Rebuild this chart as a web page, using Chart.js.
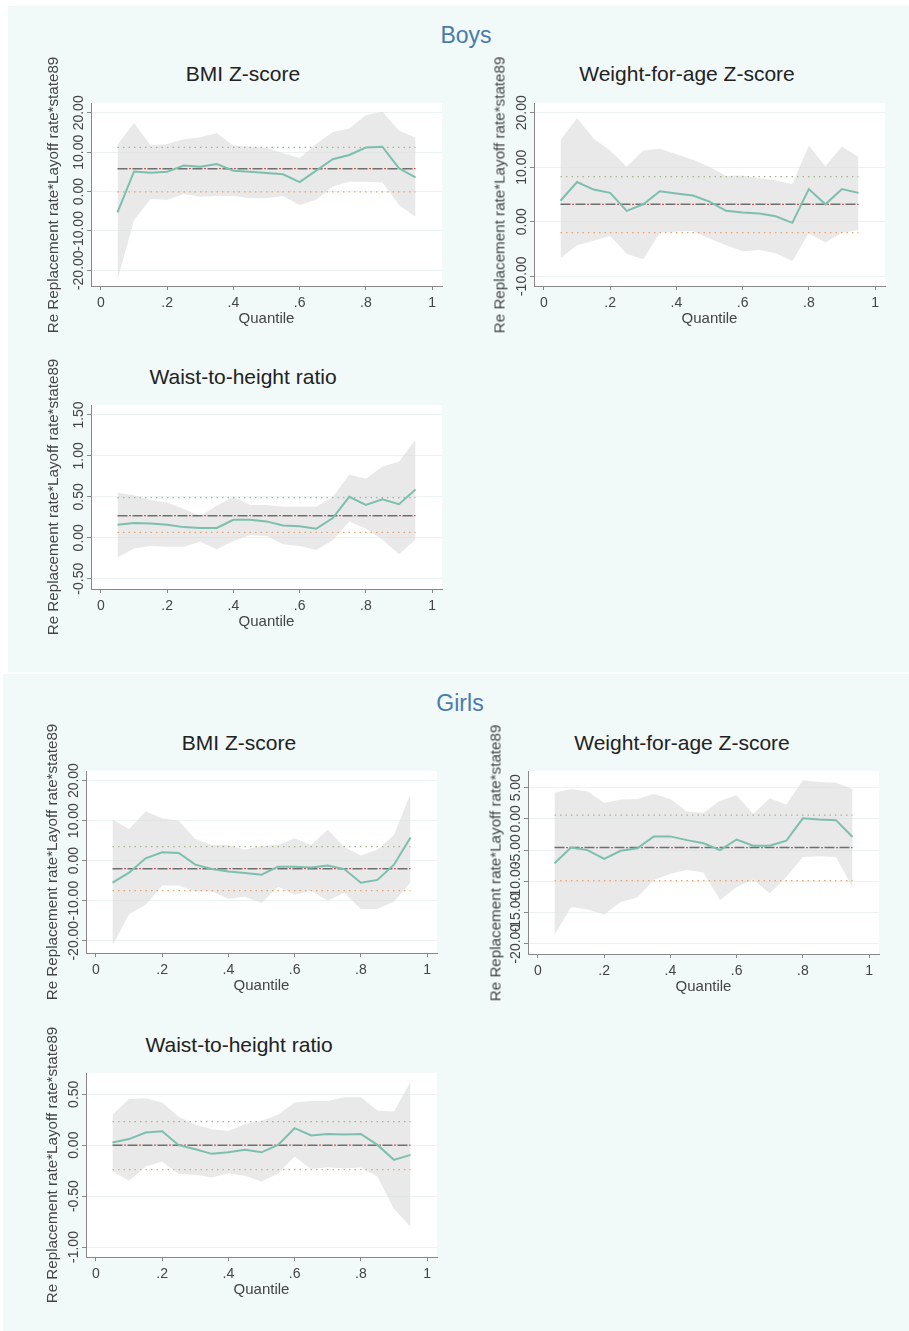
<!DOCTYPE html>
<html><head><meta charset="utf-8">
<script src="https://cdn.jsdelivr.net/npm/chart.js@4.4.1/dist/chart.umd.min.js"></script>
<style>
body{margin:0;background:#fff;width:909px;height:1331px;position:relative;overflow:hidden;font-family:'Liberation Sans',Arial,sans-serif;}
.panel{position:absolute;background:#f1f9f9;}
.ptitle{position:absolute;font-size:23px;color:#4a7bab;transform:translate(-50%,-50%);white-space:nowrap;}
.stitle{position:absolute;font-size:21px;color:#222;transform:translate(-50%,-50%);white-space:nowrap;}
.ytitle{position:absolute;font-size:15.2px;color:#444;transform:translate(-50%,-50%) rotate(-90deg);white-space:nowrap;z-index:2;}
canvas{position:absolute;z-index:1;}
</style></head><body>
<div class="panel" style="left:8px;top:6px;width:901px;height:666px"></div>
<div class="panel" style="left:3px;top:674px;width:906px;height:657px"></div>
<div class="ptitle" style="left:466px;top:35px">Boys</div>
<div class="ptitle" style="left:460px;top:703px">Girls</div>
<script>
// ---- data ----
const quantiles = [0.05,0.10,0.15,0.20,0.25,0.30,0.35,0.40,0.45,0.50,0.55,0.60,0.65,0.70,0.75,0.80,0.85,0.90,0.95];
const xTicks = [0,0.2,0.4,0.6,0.8,1];
const xTickLabels = ['0','.2','.4','.6','.8','1'];
const yAxisTitle = 'Re Replacement rate*Layoff rate*state89';
const xAxisTitle = 'Quantile';

// Boys BMI Z-score
const boysBmiCoef = [-5.3,5.1,4.8,5.0,6.6,6.3,7.0,5.3,5.0,4.7,4.4,2.4,5.3,8.2,9.3,11.2,11.4,5.9,3.6];
const boysBmiHi   = [11.9,17.4,11.7,12.1,13.3,13.8,14.8,11.7,11.4,11.1,9.7,8.5,12.1,15.1,16.0,19.4,20.3,15.5,13.7];
const boysBmiLo   = [-22.5,-7.2,-1.9,-2.1,-0.6,-1.3,-1.1,-1.1,-1.7,-1.7,-1.1,-3.4,-2.1,1.3,2.5,2.5,2.3,-3.4,-6.4];
const boysBmiOls  = [5.8,-0.1,11.2];
const boysBmiTicks = [-20,-10,0,10,20];

// Boys Weight-for-age Z-score
const boysWfaCoef = [3.85,7.3,5.9,5.3,2.0,3.2,5.6,5.2,4.8,3.7,2.0,1.7,1.5,1.0,-0.2,6.0,3.2,6.0,5.3];
const boysWfaHi   = [15.0,19.0,15.3,13.1,10.1,13.1,13.4,12.4,11.4,10.1,8.4,8.5,8.0,7.6,6.9,14.0,10.2,13.8,11.9];
const boysWfaLo   = [-6.7,-4.3,-3.5,-2.6,-5.9,-6.9,-2.0,-1.8,-1.7,-3.1,-4.3,-5.4,-5.2,-5.8,-7.2,-2.1,-3.8,-2.0,-1.5];
const boysWfaOls  = [3.2,-2.0,8.3];
const boysWfaTicks = [-10,0,10,20];

// Boys Waist-to-height ratio
const boysWhtrCoef = [0.16,0.18,0.175,0.16,0.13,0.12,0.12,0.22,0.22,0.20,0.15,0.14,0.11,0.24,0.50,0.40,0.47,0.41,0.59];
const boysWhtrHi   = [0.55,0.52,0.46,0.43,0.35,0.27,0.39,0.50,0.40,0.40,0.38,0.38,0.38,0.50,0.77,0.72,0.87,0.93,1.20];
const boysWhtrLo   = [-0.24,-0.13,-0.10,-0.11,-0.11,-0.05,-0.14,-0.04,0.03,0.02,-0.08,-0.10,-0.15,-0.03,0.20,0.11,-0.02,-0.20,-0.02];
const boysWhtrOls  = [0.27,0.065,0.49];
const boysWhtrTicks = [-0.5,0,0.5,1,1.5];

// Girls BMI Z-score
const girlsBmiCoef = [-5.5,-3.0,0.6,2.1,1.9,-1.0,-2.1,-2.7,-3.1,-3.5,-1.5,-1.5,-1.7,-1.2,-2.1,-5.5,-4.8,-1.0,5.8];
const girlsBmiHi   = [10.3,7.9,12.3,10.6,10.0,5.4,3.9,3.9,2.7,3.7,3.9,5.6,3.9,7.7,3.4,1.3,2.7,6.4,16.7];
const girlsBmiLo   = [-21.2,-13.4,-11.0,-6.2,-6.2,-7.7,-7.7,-9.5,-9.0,-10.6,-6.5,-8.5,-7.5,-10.0,-8.0,-12.1,-12.1,-10.2,-5.4];
const girlsBmiOls  = [-2.0,-7.5,3.5];
const girlsBmiTicks = [-20,-10,0,10,20];

// Girls Weight-for-age Z-score
const girlsWfaCoef = [-7.1,-4.6,-5.0,-6.4,-5.1,-4.7,-2.8,-2.8,-3.4,-3.9,-5.0,-3.3,-4.3,-4.3,-3.5,0.1,-0.1,-0.2,-2.9];
const girlsWfaHi   = [4.2,4.8,4.4,2.6,3.1,3.2,4.0,3.2,1.2,1.0,2.9,3.8,0.8,3.3,2.3,6.2,5.9,5.8,4.8];
const girlsWfaLo   = [-18.6,-14.1,-14.5,-15.3,-13.3,-12.6,-9.8,-8.8,-8.2,-8.6,-13.0,-10.9,-9.7,-11.9,-9.3,-6.1,-6.0,-6.1,-10.9];
const girlsWfaOls  = [-4.6,-9.9,0.6];
const girlsWfaTicks = [-20,-15,-10,-5,0,5];

// Girls Waist-to-height ratio
const girlsWhtrCoef = [0.026,0.06,0.125,0.137,0.0,-0.04,-0.085,-0.07,-0.045,-0.07,0.003,0.167,0.095,0.11,0.105,0.11,0.003,-0.144,-0.095];
const girlsWhtrHi   = [0.30,0.454,0.46,0.42,0.28,0.20,0.157,0.14,0.206,0.24,0.30,0.42,0.435,0.435,0.47,0.47,0.34,0.33,0.62];
const girlsWhtrLo   = [-0.258,-0.35,-0.21,-0.16,-0.284,-0.29,-0.317,-0.275,-0.30,-0.356,-0.28,-0.11,-0.235,-0.216,-0.23,-0.22,-0.307,-0.627,-0.80];
const girlsWhtrOls  = [0.0,-0.239,0.232];
const girlsWhtrTicks = [-1,-0.5,0,0.5];

// ---- layout ----
const FONT = "'Liberation Sans', Arial, sans-serif";
Chart.defaults.font.family = FONT;
const panels = [
  {title:'BMI Z-score', coef:boysBmiCoef, hi:boysBmiHi, lo:boysBmiLo, ols:boysBmiOls, ticks:boysBmiTicks, ymin:-24, ymax:22.5, area:[91,103,442,286], tx:243, ty:74, yx:52},
  {title:'Weight-for-age Z-score', coef:boysWfaCoef, hi:boysWfaHi, lo:boysWfaLo, ols:boysWfaOls, ticks:boysWfaTicks, ymin:-11.8, ymax:21.8, area:[534,103,885,286], tx:687, ty:74, yx:499},
  {title:'Waist-to-height ratio', coef:boysWhtrCoef, hi:boysWhtrHi, lo:boysWhtrLo, ols:boysWhtrOls, ticks:boysWhtrTicks, ymin:-0.626, ymax:1.622, area:[91,405,442,589], tx:243, ty:377, yx:52},
  {title:'BMI Z-score', coef:girlsBmiCoef, hi:girlsBmiHi, lo:girlsBmiLo, ols:girlsBmiOls, ticks:girlsBmiTicks, ymin:-23.07, ymax:22.4, area:[86,771,437,953], tx:239, ty:743, yx:51},
  {title:'Weight-for-age Z-score', coef:girlsWfaCoef, hi:girlsWfaHi, lo:girlsWfaLo, ols:girlsWfaOls, ticks:girlsWfaTicks, ymin:-21.65, ymax:7.68, area:[528,771,879,954], tx:682, ty:743, yx:495},
  {title:'Waist-to-height ratio', coef:girlsWhtrCoef, hi:girlsWhtrHi, lo:girlsWhtrLo, ols:girlsWhtrOls, ticks:girlsWhtrTicks, ymin:-1.098, ymax:0.709, area:[86,1073,437,1257], tx:239, ty:1045, yx:51}
];

const plotBg = {id:'plotBg', beforeDraw(chart){const {ctx, chartArea:a}=chart; ctx.save(); ctx.fillStyle='#ffffff'; ctx.fillRect(a.left,a.top,a.right-a.left,a.bottom-a.top); ctx.restore();}};
const mctx = document.createElement('canvas').getContext('2d');
const YFS = 14;
mctx.font = 'normal ' + YFS + 'px ' + FONT;

const pts = arr => quantiles.map((q,i)=>({x:q, y:arr[i]}));
const span = v => [{x:quantiles[0], y:v},{x:quantiles[quantiles.length-1], y:v}];

panels.forEach(p => {
  const [L,T,R,B] = p.area;
  const YW = 70, XH = 48, PT = 8, PR = 8;
  const w = R-L+YW+PR, h = B-T+PT+XH;
  const cv = document.createElement('canvas');
  cv.width = w; cv.height = h;
  cv.style.left = (L-YW)+'px'; cv.style.top = (T-PT)+'px';
  cv.style.width = w+'px'; cv.style.height = h+'px';
  document.body.appendChild(cv);

  const t = document.createElement('div'); t.className='stitle'; t.textContent=p.title;
  t.style.left=p.tx+'px'; t.style.top=p.ty+'px'; document.body.appendChild(t);
  const yt = document.createElement('div'); yt.className='ytitle'; yt.textContent=yAxisTitle;
  yt.style.left=p.yx+'px'; yt.style.top=((T+B)/2)+'px'; document.body.appendChild(yt);

  const widest = Math.max(...p.ticks.map(v=>mctx.measureText(v.toFixed(2)).width));
  const TL = 4;
  const pad = 12 - TL - widest/2;

  new Chart(cv, {
    type:'line',
    data:{datasets:[
      {data:pts(p.coef), borderColor:'#7dbfad', borderWidth:2, order:1},
      {data:span(p.ols[0]), borderColor:'#6f6f6f', borderWidth:1.5, borderDash:[10,5], order:3},
      {data:span(p.ols[0]), borderColor:'#d9534f', borderWidth:1.2, borderDash:[2,13], borderDashOffset:-11.5, order:2},
      {data:span(p.ols[2]), borderColor:'#a3b88c', borderWidth:1.3, borderDash:[1.5,4], order:4},
      {data:span(p.ols[1]), borderColor:'#eba36a', borderWidth:1.3, borderDash:[1.5,4], order:4},
      {data:pts(p.lo), borderWidth:0, borderColor:'rgba(0,0,0,0)', fill:false, order:10},
      {data:pts(p.hi), borderWidth:0, borderColor:'rgba(0,0,0,0)', backgroundColor:'rgba(215,215,215,0.55)', fill:'-1', order:9}
    ]},
    options:{
      responsive:false, animation:false, devicePixelRatio:1,
      layout:{padding:{left:0,top:PT,right:PR,bottom:0}},
      elements:{point:{radius:0}, line:{tension:0}},
      plugins:{legend:{display:false}, tooltip:{enabled:false}},
      scales:{
        x:{type:'linear', min:-0.03, max:1.03,
          afterBuildTicks:s=>{s.ticks = xTicks.map(v=>({value:v}));},
          afterFit:s=>{s.height = XH;},
          ticks:{autoSkip:false, maxRotation:0, minRotation:0, padding:5, color:'#444', font:{size:14},
                 callback:v=>xTickLabels[xTicks.indexOf(v)]},
          grid:{drawOnChartArea:false, drawTicks:true, tickLength:TL, tickColor:'#888'},
          border:{display:true, color:'#888', width:1},
          title:{display:true, text:xAxisTitle, color:'#444', font:{size:15}, padding:{top:0,bottom:6}}
        },
        y:{type:'linear', min:p.ymin, max:p.ymax,
          afterBuildTicks:s=>{s.ticks = p.ticks.map(v=>({value:v}));},
          afterFit:s=>{s.width = YW;},
          ticks:{autoSkip:false, minRotation:90, maxRotation:90, crossAlign:'center', padding:pad, color:'#444', font:{size:YFS},
                 callback:v=>Number(v).toFixed(2)},
          grid:{color:'#ebf3f3', lineWidth:1, drawTicks:true, tickLength:TL, tickColor:'#888'},
          border:{display:true, color:'#888', width:1}
        }
      }
    },
    plugins:[plotBg]
  });
});
</script>
</body></html>
